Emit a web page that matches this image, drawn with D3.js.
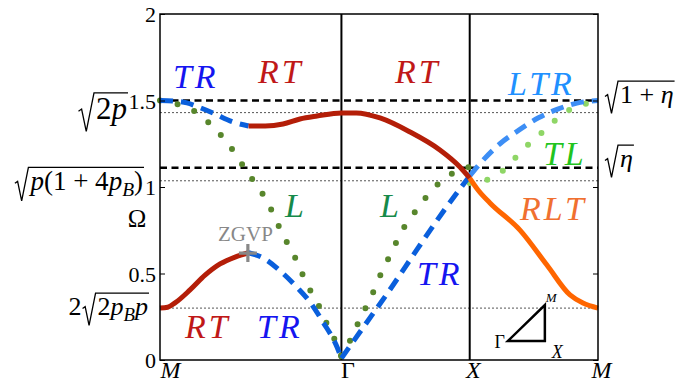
<!DOCTYPE html>
<html><head><meta charset="utf-8">
<script src="https://cdn.jsdelivr.net/npm/d3@7"></script>
<style>body{margin:0;background:#fff} svg{display:block}
svg text{font-family:"Liberation Serif","Times New Roman","DejaVu Serif",serif;}
</style>
</head><body><svg id="c" width="678" height="387"></svg>
<script>
// ---------- data ----------
const kG = Math.SQRT2, kX = Math.SQRT2 + 1, kEnd = Math.SQRT2 + 2;
const xTickPos = [0, kG, kX, kEnd];
const xTickLabels = ["M", "Γ", "X", "M"];
const yTicks = [0, 0.5, 1, 1.5, 2];
const yTickLabels = ["0", "0.5", "1", "1.5", "2"];

// RT (lower), M -> ZGVP
const rtLowK = [0, 0.06, 0.117, 0.234, 0.351, 0.468, 0.585, 0.69];
const rtLowW = [0.30, 0.305, 0.33, 0.405, 0.49, 0.555, 0.595, 0.62];
// TR (lower), ZGVP -> Gamma
const trLowK = [0.69, 0.803, 0.959, 1.068, 1.169, 1.27, 1.38, 1.414];
const trLowW = [0.62, 0.59, 0.50, 0.42, 0.335, 0.22, 0.075, 0.01];
// TR (upper), M -> ZGVP
const trUpK = [0, 0.1, 0.21, 0.3, 0.413, 0.569, 0.69];
const trUpW = [1.5, 1.497, 1.486, 1.462, 1.428, 1.376, 1.353];
// RT (upper), ZGVP -> X
const rtUpK = [0.69, 0.82, 0.959, 1.091, 1.224, 1.414, 1.53, 1.715, 1.949, 2.182, 2.338, 2.414];
const rtUpW = [1.353, 1.353, 1.364, 1.393, 1.41, 1.428, 1.428, 1.399, 1.318, 1.214, 1.116, 1.052];
// RLT, X -> M
const rltK = [2.414, 2.479, 2.572, 2.806, 3.016, 3.196, 3.297, 3.414];
const rltW = [1.052, 0.983, 0.908, 0.751, 0.549, 0.376, 0.329, 0.30];
// TR, Gamma -> X
const trGXK = [1.414, 1.6, 1.8, 2.0, 2.2, 2.414];
const trGXW = [0.01, 0.205, 0.415, 0.635, 0.85, 1.064];
// LTR, X -> M
const ltrK = [2.414, 2.5, 2.65, 2.8, 2.95, 3.1, 3.25, 3.414];
const ltrW = [1.064, 1.14, 1.25, 1.33, 1.40, 1.45, 1.485, 1.5];
// L, M -> Gamma
const lMGK = [0, 0.179, 0.304, 0.413, 0.514, 0.6, 0.678, 0.764, 0.842, 0.904, 0.966, 1.037, 1.099, 1.161, 1.231, 1.294, 1.356, 1.414];
const lMGW = [1.5, 1.468, 1.422, 1.347, 1.266, 1.179, 1.087, 1.0, 0.908, 0.809, 0.711, 0.618, 0.514, 0.416, 0.324, 0.22, 0.127, 0.02];
// L, Gamma -> X
const lGXK = [1.414, 1.496, 1.559, 1.621, 1.684, 1.738, 1.808, 1.871, 1.949, 2.034, 2.128, 2.237, 2.37, 2.414];
const lGXW = [0.02, 0.133, 0.237, 0.329, 0.428, 0.526, 0.624, 0.728, 0.815, 0.902, 0.988, 1.058, 1.11, 1.115];
// TL, X -> M
const tlK = [2.414, 2.564, 2.689, 2.79, 2.892, 3.009, 3.11, 3.235, 3.375, 3.414];
const tlW = [1.023, 1.046, 1.104, 1.185, 1.26, 1.335, 1.405, 1.462, 1.491, 1.5];

// reference levels
const dashedLevels = [1.5, 1.111];
const dottedLevels = [1.43, 1.036, 0.30];
// ZGVP point
const zgvpK = [0.685], zgvpW = [0.618];
// inset triangle (Gamma, X, M)
const triK = [2.712, 3.0, 3.0];
const triW = [0.11, 0.11, 0.318];
const triLabels = ["Γ", "X", "M"];

// band labels
const bandText = ["TR", "RT", "RT", "LTR", "TL", "L", "L", "RLT", "TR", "RT", "TR"];
const bandK = [0.101, 0.764, 1.832, 2.712, 2.985, 0.974, 1.715, 2.806, 2.003, 0.195, 0.756];
const bandW = [1.572, 1.601, 1.601, 1.532, 1.127, 0.827, 0.827, 0.809, 0.434, 0.127, 0.127];
const bandColor = ["#1515f0", "#c01818", "#c01818", "#2090ff", "#22c41e", "#168a4a", "#168a4a", "#f07030", "#1515f0", "#c01818", "#1515f0"];

// ---------- drawing ----------
const svg = d3.select("#c");
const L = 160, R = 598, T = 14, B = 360;
const x = d3.scaleLinear().domain([0, kEnd]).range([L, R]);
const y = d3.scaleLinear().domain([0, 2]).range([B, T]);

const line = d3.line().x(d => x(d[0])).y(d => y(d[1])).curve(d3.curveMonotoneX);
const zip = (a, b) => a.map((v, i) => [v, b[i]]);

// reference lines
svg.append("g").selectAll("line").data(dottedLevels).join("line")
  .attr("x1", L).attr("x2", R).attr("y1", d => y(d)).attr("y2", d => y(d))
  .attr("stroke", "#555").attr("stroke-width", 1).attr("stroke-dasharray", "2 2");
svg.append("g").selectAll("line").data(dashedLevels).join("line")
  .attr("x1", L).attr("x2", R).attr("y1", d => y(d)).attr("y2", d => y(d))
  .attr("stroke", "#000").attr("stroke-width", 2.5).attr("stroke-dasharray", "7 4.5");

// vertical lines at Gamma and X
svg.append("g").selectAll("line").data([kG, kX]).join("line")
  .attr("x1", d => x(d)).attr("x2", d => x(d)).attr("y1", T).attr("y2", B)
  .attr("stroke", "#000").attr("stroke-width", 2);

// curves
function solid(k, w, c) {
  svg.append("path").datum(zip(k, w)).attr("d", line).attr("fill", "none")
    .attr("stroke", c).attr("stroke-width", 5).attr("stroke-linecap", "butt");
}
function dashed(k, w, c) {
  svg.append("path").datum(zip(k, w)).attr("d", line).attr("fill", "none")
    .attr("stroke", c).attr("stroke-width", 5).attr("stroke-dasharray", "13 8");
}
function dotted(k, w, c) {
  svg.append("path").datum(zip(k, w)).attr("d", line).attr("fill", "none")
    .attr("stroke", c).attr("stroke-width", 6).attr("stroke-linecap", "round")
    .attr("stroke-dasharray", "0 18");
}
dotted(lMGK, lMGW, "#58862c");
dotted(lGXK, lGXW, "#58862c");
dotted(tlK, tlW, "#8fd666");
dashed(trUpK, trUpW, "#0a5fdc");
dashed(trLowK, trLowW, "#0a5fdc");
dashed(trGXK, trGXW, "#0a5fdc");
dashed(ltrK, ltrW, "#3d8ef5");
solid(rtLowK, rtLowW, "#b41e08");
solid(rtUpK, rtUpW, "#b41e08");
solid(rltK, rltW, "#ff6600");

// ZGVP marker
const zg = svg.append("g");
zgvpK.forEach((k, i) => {
  const cx = x(k), cy = y(zgvpW[i]);
  zg.append("path").attr("d", `M${cx - 9},${cy}H${cx + 9}M${cx},${cy - 9}V${cy + 9}`)
    .attr("stroke", "#888").attr("stroke-width", 3.2);
});
svg.append("text").attr("x", x(0.452)).attr("y", y(0.688)).text("ZGVP")
  .attr("font-size", 21).attr("fill", "#888");

// frame
svg.append("rect").attr("x", L).attr("y", T).attr("width", R - L).attr("height", B - T)
  .attr("fill", "none").attr("stroke", "#000").attr("stroke-width", 1.5);

// y axis
const ya = svg.append("g").attr("transform", `translate(${L},0)`)
  .call(d3.axisLeft(y).tickValues(yTicks).tickFormat((d, i) => yTickLabels[i])
    .tickSizeInner(-5).tickSizeOuter(0).tickPadding(4));
ya.select(".domain").remove();
ya.attr("font-family", null).attr("font-size", null);
ya.selectAll("text").attr("font-size", 22).attr("fill", "#000").attr("dy", "0.35em");
ya.selectAll("line").attr("stroke", "#000").attr("stroke-width", 1);
const yr = svg.append("g").attr("transform", `translate(${R},0)`)
  .call(d3.axisRight(y).tickValues(yTicks).tickFormat("").tickSizeInner(-5).tickSizeOuter(0));
yr.select(".domain").remove();
yr.selectAll("line").attr("stroke", "#000");

// x axis labels
const xdx = [10, 6, 3, 3];
const xa = svg.append("g").attr("transform", `translate(0,${B})`)
  .call(d3.axisBottom(x).tickValues(xTickPos).tickFormat((d, i) => xTickLabels[i]).tickSize(0).tickPadding(0));
xa.select(".domain").remove();
xa.attr("font-family", null).attr("font-size", null);
xa.selectAll("text").attr("font-size", 24).attr("fill", "#000")
  .attr("dy", null).attr("y", 18)
  .attr("dx", (d, i) => xdx[i])
  .attr("font-style", (d, i) => xTickLabels[i] === "Γ" ? "normal" : "italic");

// Omega label
svg.append("text").attr("x", 137).attr("y", 227).attr("text-anchor", "middle")
  .attr("font-size", 25).text("Ω");

// band labels
svg.append("g").selectAll("text").data(bandText).join("text")
  .attr("x", (d, i) => x(bandK[i])).attr("y", (d, i) => y(bandW[i]))
  .attr("fill", (d, i) => bandColor[i])
  .attr("font-style", "italic").attr("font-size", 34).attr("letter-spacing", 3)
  .text(d => d);

// inset triangle
const tri = zip(triK, triW);
svg.append("path").attr("d", "M" + tri.map(p => [x(p[0]), y(p[1])].join(",")).join("L") + "Z")
  .attr("fill", "none").attr("stroke", "#000").attr("stroke-width", 2.5).attr("stroke-linejoin", "miter");
svg.append("text").attr("x", x(triK[0]) - 3).attr("y", y(triW[0]) + 7).attr("text-anchor", "end")
  .attr("font-size", 18).text(triLabels[0]);
svg.append("text").attr("x", x(triK[1]) + 7).attr("y", y(triW[1]) + 17)
  .attr("font-style", "italic").attr("font-size", 18).text(triLabels[1]);
svg.append("text").attr("x", x(triK[2]) + 1).attr("y", y(triW[2]) - 3)
  .attr("font-style", "italic").attr("font-size", 13).text(triLabels[2]);

// sqrt labels
function sqrtLabel(opt) {
  const g = svg.append("g");
  const s = opt.size;
  const t = g.append("text").attr("y", opt.y).attr("font-size", s);
  opt.parts.forEach(p => {
    const ts = t.append("tspan").text(p.t);
    if (p.i) ts.attr("font-style", "italic");
    if (p.sub) ts.attr("font-size", s * 0.72).attr("dy", s * 0.22);
    if (p.up) ts.attr("dy", -s * 0.22);
  });
  const w = t.node().getComputedTextLength();
  const rw = s * 0.5;
  let xr0, tx;
  if (opt.anchor === "end") { tx = opt.x - w; xr0 = tx - rw - 2; }
  else { xr0 = opt.x; tx = xr0 + rw + 2; }
  t.attr("x", tx);
  const top = opt.y - s * 0.84, bot = opt.y + s * 0.4;
  g.append("path")
    .attr("d", `M${xr0},${opt.y - s * 0.25}L${xr0 + s * 0.1},${opt.y - s * 0.32}L${xr0 + s * 0.25},${bot}L${xr0 + rw},${top}L${tx + w + 1},${top}`)
    .attr("fill", "none").attr("stroke", "#000").attr("stroke-width", 1.3).attr("stroke-linejoin", "miter");
  if (opt.prefix) {
    g.append("text").attr("x", xr0 - 1).attr("y", opt.y).attr("text-anchor", "end")
      .attr("font-size", s).text(opt.prefix);
  }
}
sqrtLabel({ x: 127, y: 119, size: 31, anchor: "end", parts: [{ t: "2" }, { t: "p", i: true }] });
sqrtLabel({ x: 143, y: 190, size: 27, anchor: "end", parts: [{ t: "p", i: true }, { t: "(1 + 4" }, { t: "p", i: true }, { t: "B", i: true, sub: true }, { t: ")", up: true }] });
sqrtLabel({ x: 148, y: 315, size: 26, anchor: "end", prefix: "2", parts: [{ t: "2" }, { t: "p", i: true }, { t: "B", i: true, sub: true }, { t: "p", i: true, up: true }] });
sqrtLabel({ x: 605, y: 103, size: 26, anchor: "start", parts: [{ t: "1 + " }, { t: "η", i: true }] });
sqrtLabel({ x: 605, y: 167, size: 26, anchor: "start", parts: [{ t: "η", i: true }] });
</script></body></html>
